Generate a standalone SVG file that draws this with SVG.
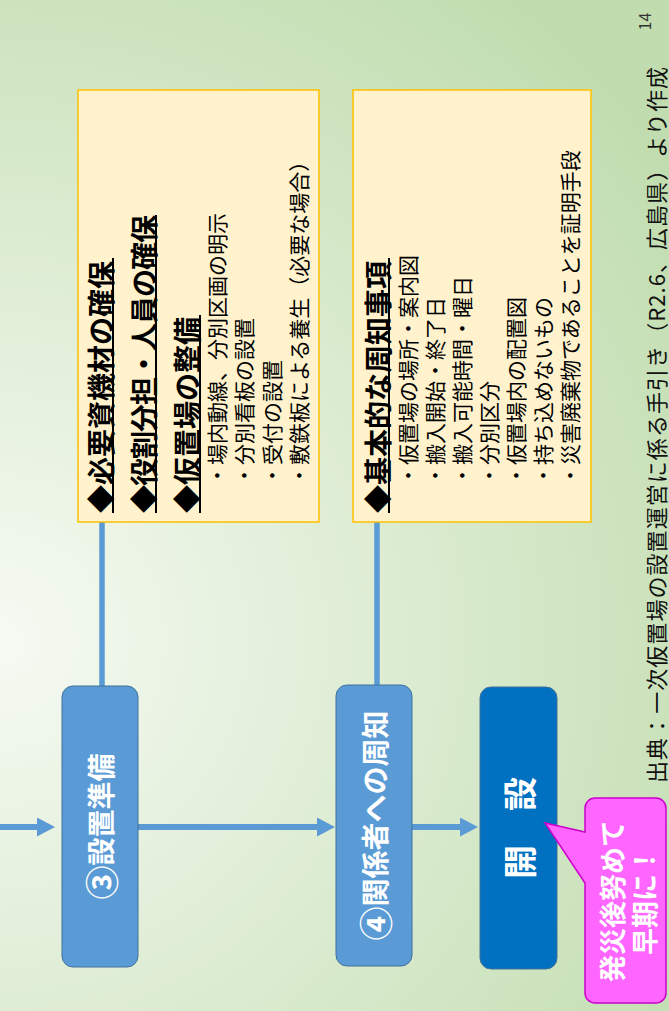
<svg xmlns="http://www.w3.org/2000/svg" width="669" height="1011" viewBox="0 0 669 1011">
<defs>
<radialGradient id="bg" gradientUnits="userSpaceOnUse" cx="0" cy="640" r="820">
<stop offset="0" stop-color="#F6FAF3"/>
<stop offset="1" stop-color="#C1DDAF"/>
</radialGradient>
<marker id="ah" markerUnits="userSpaceOnUse" markerWidth="18" markerHeight="19" refX="2" refY="9.5" orient="auto" viewBox="0 0 18 19">
<path d="M0,0 L18,9.5 L0,19 z" fill="#5B9BD5"/>
</marker>
<style>
.box{fill:#FFF2CC;stroke:#FFC000;stroke-width:1.5}
.node{fill:#5B9BD5;stroke:#41719C;stroke-width:1}
.jp{font-family:"Noto Sans CJK JP","Noto Sans CJK SC",sans-serif;dominant-baseline:central}
.head{font-size:28px;font-weight:bold;fill:#000}
.item{font-size:21px;fill:#000}
.ul{stroke:#000;stroke-width:2}
.conn{stroke:#5B9BD5;stroke-width:6;fill:none}
.wt{font-weight:bold;fill:#fff;text-anchor:middle}
.circ{font-size:34px}
</style>
</defs>
<rect width="669" height="1011" fill="url(#bg)"/>
<g transform="translate(0,1011) rotate(-90)">
<g id="connectors">
<line class="conn" x1="184" y1="0" x2="184" y2="39" marker-end="url(#ah)"/>
<line class="conn" x1="184" y1="138" x2="184" y2="319" marker-end="url(#ah)"/>
<line class="conn" x1="184" y1="412" x2="184" y2="462" marker-end="url(#ah)"/>
<line class="conn" x1="489" y1="102" x2="325" y2="102" style="stroke-width:5.5"/>
<line class="conn" x1="489" y1="377" x2="326" y2="377" style="stroke-width:5.5"/>
</g>
<g id="box-junbi">
<rect class="box" x="489" y="78" width="432" height="241"/>
<text class="jp head" x="498" y="100">◆必要資機材の確保</text>
<line class="ul" x1="498" y1="113" x2="753" y2="113"/>
<text class="jp head" x="498" y="143" textLength="298" lengthAdjust="spacing">◆役割分担・人員の確保</text>
<line class="ul" x1="498" y1="156" x2="796" y2="156"/>
<text class="jp head" x="498" y="186">◆仮置場の整備</text>
<line class="ul" x1="498" y1="200" x2="696" y2="200"/>
<text class="jp item" x="525" y="216">・場内動線、分別区画の明示</text>
<text class="jp item" x="525" y="243.3">・分別看板の設置</text>
<text class="jp item" x="525" y="270.6">・受付の設置</text>
<text class="jp item" x="525" y="298">・敷鉄板による養生（必要な場合）</text>
</g>
<g id="box-shuchi">
<rect class="box" x="489" y="353" width="432" height="238"/>
<text class="jp head" x="498" y="377">◆基本的な周知事項</text>
<line class="ul" x1="498" y1="389" x2="753" y2="389"/>
<text class="jp item" x="525" y="407">・仮置場の場所・案内図</text>
<text class="jp item" x="525" y="434">・搬入開始・終了日</text>
<text class="jp item" x="525" y="461">・搬入可能時間・曜日</text>
<text class="jp item" x="525" y="488">・分別区分</text>
<text class="jp item" x="525" y="515">・仮置場内の配置図</text>
<text class="jp item" x="525" y="542">・持ち込めないもの</text>
<text class="jp item" x="525" y="569">・災害廃棄物であることを証明手段</text>
</g>
<g id="node-3">
<rect class="node" x="44" y="62" width="281" height="76" rx="11"/>
<text class="jp wt" x="184.5" y="100" font-size="28"><tspan class="circ">③</tspan>設置準備</text>
</g>
<g id="node-4">
<rect class="node" x="45" y="336" width="281" height="76" rx="11"/>
<text class="jp wt" x="185.5" y="374" font-size="28"><tspan class="circ">④</tspan>関係者への周知</text>
</g>
<g id="node-kaisetsu">
<rect x="42" y="480" width="282" height="77" rx="11" fill="#0070C0" stroke="#41719C" stroke-width="1"/>
<text class="jp wt" x="183" y="518.5" font-size="34">開　設</text>
</g>
<g id="callout">
<path d="M18,585 L128,585 L188,545 L179,585 L203,585 A10,10 0 0 1 213,595 L213,656 A10,10 0 0 1 203,666 L18,666 A10,10 0 0 1 8,656 L8,595 A10,10 0 0 1 18,585 Z" fill="#FF66FF" stroke="#CC00CC" stroke-width="1.5"/>
<text class="jp wt" x="110" y="611" font-size="27">発災後努めて</text>
<text class="jp wt" x="110" y="643" font-size="27">早期に！</text>
</g>
<g id="footnote">
<text class="jp" x="228" y="655" font-size="22" textLength="716" lengthAdjust="spacing" fill="#111">出典：一次仮置場の設置運営に係る手引き（R2.6、広島県）より作成</text>
</g>
<g id="page-number">
<text class="jp" x="989.5" y="644" font-size="16" fill="#333" text-anchor="middle">14</text>
</g>
</g>
</svg>
